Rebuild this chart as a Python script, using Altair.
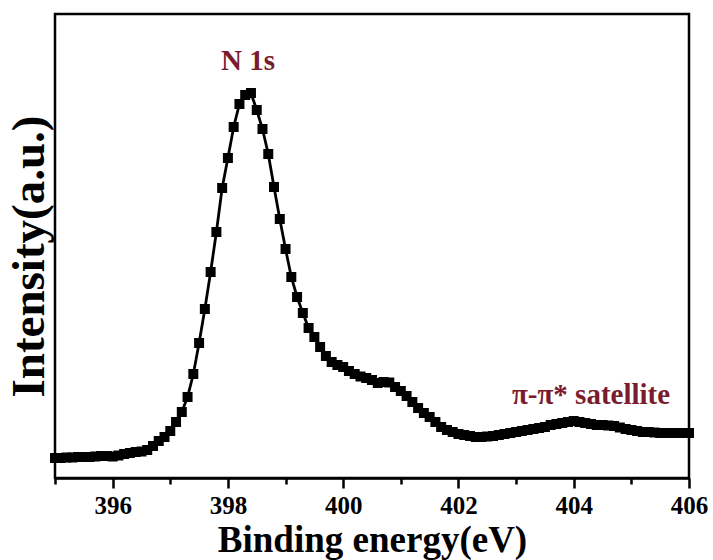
import altair as alt
import pandas as pd

# N 1s XPS spectrum, 0.1 eV steps from 395.0 to 406.0 eV
energy = [round(395.0 + 0.1 * i, 1) for i in range(111)]
intensity = [
    20, 20, 20.5, 20.5, 21, 21, 21, 21.5, 22, 22,          # 395.0-395.9
    21.5, 22.5, 24, 25, 26, 26.5, 28, 32, 37, 41,          # 396.0-396.9
    47, 56, 66, 81, 104, 135, 169, 206, 246, 290,          # 397.0-397.9
    320, 351, 374, 383, 385, 368, 349, 324, 291, 259,      # 398.0-398.9
    229, 201, 181, 165, 150, 141, 131, 122, 116, 113,      # 399.0-399.9
    111, 107, 104, 101.5, 100, 98, 95, 96, 95.5, 91,       # 400.0-400.9
    87, 82, 76, 70, 65, 61, 56, 51, 48, 46,                # 401.0-401.9
    44, 43, 42, 41, 41, 41.5, 42, 43, 44, 45,              # 402.0-402.9
    46, 47, 48, 49, 50, 51, 53, 54, 55, 56,                # 403.0-403.9
    57, 56, 55, 54, 53, 53, 52.5, 52, 50.5, 49,            # 404.0-404.9
    48, 47, 46, 46, 45.5, 45, 45, 45, 45, 45,              # 405.0-405.9
    45,                                                    # 406.0
]

# ticks every 1 eV, labels on the even ones
tick_values = [395, 396, 397, 398, 399, 400, 401, 402, 403, 404, 405, 406]

label_text = ["N 1s", "π-π* satellite"]
label_energy = [398.35, 404.3]
label_intensity = [417, 83]

spectrum = pd.DataFrame({"energy": energy, "intensity": intensity})
labels = pd.DataFrame({"text": label_text, "energy": label_energy, "intensity": label_intensity})

FONT = "Liberation Serif"
x_scale = alt.Scale(domain=[395, 406], nice=False, zero=False)
y_scale = alt.Scale(domain=[0, 464], nice=False, zero=True)

x_axis = alt.Axis(
    title="Binding energy(eV)",
    values=tick_values,
    labelExpr="datum.value % 2 == 0 ? format(datum.value, 'd') : ''",
    grid=False,
    domain=True,
    domainColor="black",
    domainWidth=2.5,
    tickColor="black",
    tickWidth=2.5,
    tickSize={"condition": {"test": "datum.value % 2 == 0", "value": 10}, "value": 6},
    labelFont=FONT,
    labelFontWeight="bold",
    labelFontSize=25,
    labelColor="black",
    labelPadding=5,
    labelFlush=False,
    labelOverlap=False,
    titleFont=FONT,
    titleFontWeight="bold",
    titleFontSize=37,
    titleColor="black",
    titlePadding=4,
)

y_axis = alt.Axis(
    title="Intensity(a.u.)",
    labels=False,
    ticks=False,
    domain=False,
    grid=False,
    titleFont=FONT,
    titleFontWeight="bold",
    titleFontSize=47,
    titleColor="black",
    titlePadding=2,
    titleY=242,
    titleAlign="center",
)

x_enc = alt.X("energy:Q", scale=x_scale, axis=x_axis)
y_enc = alt.Y("intensity:Q", scale=y_scale, axis=y_axis)

line = alt.Chart(spectrum).mark_line(color="black", strokeWidth=2.8).encode(x=x_enc, y=y_enc)
points = alt.Chart(spectrum).mark_point(
    shape="square", filled=True, color="black", size=100, opacity=1
).encode(x=x_enc, y=y_enc)

annotations = alt.Chart(labels).mark_text(
    font=FONT, fontWeight="bold", fontSize=29, color="#7a1c2e"
).encode(x=x_enc, y=y_enc, text="text:N")

chart = (
    alt.layer(line, points, annotations)
    .properties(
        width=634,
        height=464,
        autosize=alt.AutoSizeParams(type="none"),
        padding={"left": 55, "top": 14, "right": 24, "bottom": 82},
        background="white",
    )
    .configure_view(stroke="black", strokeWidth=2.5)
)

chart.save("out.html", embed_options={"renderer": "svg", "actions": False})
